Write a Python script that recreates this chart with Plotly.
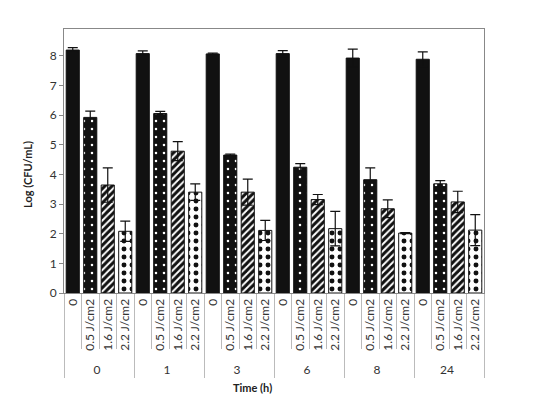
import plotly.graph_objects as go

times = ["0", "1", "3", "6", "8", "24"]
doses = ["0", "0.5 J/cm2", "1.6 J/cm2", "2.2 J/cm2"]

val_0 = [8.19, 8.07, 8.06, 8.07, 7.92, 7.88]
val_05 = [5.92, 6.05, 4.65, 4.24, 3.82, 3.68]
val_16 = [3.64, 4.78, 3.40, 3.15, 2.84, 3.07]
val_22 = [2.08, 3.40, 2.11, 2.17, 2.02, 2.12]

err_0 = [0.08, 0.09, 0.03, 0.10, 0.30, 0.25]
err_05 = [0.21, 0.07, 0.03, 0.12, 0.40, 0.11]
err_16 = [0.58, 0.32, 0.44, 0.17, 0.30, 0.36]
err_22 = [0.34, 0.28, 0.34, 0.58, 0.02, 0.52]

series = [val_0, val_05, val_16, val_22]
errors = [err_0, err_05, err_16, err_22]

# pattern style per dose
styles = [
    dict(shape="", bg="#111111", fg="#111111", size=6, sol=0.3),
    dict(shape=".", bg="#111111", fg="#ffffff", size=8, sol=0.08),
    dict(shape="/", bg="#ffffff", fg="#111111", size=5, sol=0.6),
    dict(shape=".", bg="#ffffff", fg="#111111", size=8, sol=0.3),
]

x_outer, x_inner = [], []
for t in times:
    for d in doses:
        x_outer.append(t)
        x_inner.append(d)

fig = go.Figure()
for di, d in enumerate(doses):
    yv, ev = [], []
    for ti, t in enumerate(times):
        for dj in range(len(doses)):
            if dj == di:
                yv.append(series[di][ti])
                ev.append(errors[di][ti])
            else:
                yv.append(None)
                ev.append(None)
    s = styles[di]
    pattern = dict(shape=s["shape"], bgcolor=s["bg"], fgcolor=s["fg"],
                   size=s["size"], solidity=s["sol"], fillmode="replace")
    fig.add_trace(go.Bar(
        x=[x_outer, x_inner],
        y=yv,
        marker=dict(color=s["bg"], line=dict(color="#111111", width=1),
                    pattern=pattern),
        error_y=dict(type="data", array=ev, visible=True, color="#111111",
                     thickness=1.2, width=5),
        showlegend=False,
    ))

font = "Lato, Open Sans, sans-serif"
# page body has an 8px default margin
fig.update_layout(
    width=552, height=393,
    margin=dict(l=56, r=76, t=21, b=108),
    paper_bgcolor="white", plot_bgcolor="white",
    barmode="overlay",
    bargap=0.25,
    font=dict(family=font, size=12, color="#333333"),
    xaxis=dict(
        type="multicategory", automargin=False,
        showline=True, linecolor="#888888", linewidth=1, mirror=True,
        ticks="outside", tickson="boundaries", ticklen=55, tickcolor="#bbbbbb",
        tickangle=-90, showdividers=True, dividercolor="#bbbbbb", dividerwidth=1,
        tickfont=dict(size=12, color="#333333"),
        showgrid=False,
    ),
    yaxis=dict(
        range=[0, 8.9], tickvals=[0, 1, 2, 3, 4, 5, 6, 7, 8], automargin=False,
        showline=True, linecolor="#888888", linewidth=1, mirror=True,
        ticks="outside", ticklen=4, tickcolor="#888888",
        showgrid=False, zeroline=False,
        tickfont=dict(size=12, color="#333333"),
    ),
    annotations=[
        dict(text="<b>Time (h)</b>", xref="paper", yref="paper",
             x=(252 - 64) / 420, y=-(387 - 293) / 264, showarrow=False,
             font=dict(size=11, color="#222222"), xanchor="center", yanchor="middle"),
        dict(text="<b>Log (CFU/mL)</b>", xref="paper", yref="paper",
             x=-(64 - 27) / 420, y=(293 - 175) / 264, showarrow=False, textangle=-90,
             font=dict(size=11, color="#222222"), xanchor="center", yanchor="middle"),
    ],
)

fig.write_html("out.html")
